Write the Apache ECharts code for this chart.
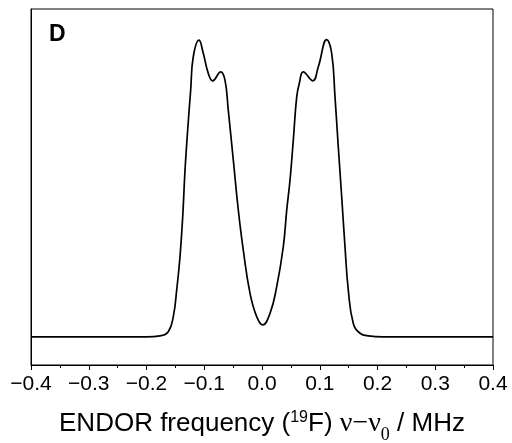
<!DOCTYPE html>
<html>
<head>
<meta charset="utf-8">
<script src="https://cdn.jsdelivr.net/npm/echarts@6/dist/echarts.min.js"></script>
<style>
html,body{margin:0;padding:0;background:#fff;}
#chart{width:512px;height:443px;}
</style>
</head>
<body>
<div id="chart"></div>
<script>
// ENDOR frequency offset (MHz)
var freq = [-0.4, -0.2, -0.1766, -0.1623, -0.1536, -0.1477, -0.142, -0.1373, -0.1333, -0.1287, -0.1235, -0.119, -0.1091, -0.1016, -0.093, -0.0854, -0.0715, -0.0641, -0.0584, -0.0497, -0.041, -0.0324, -0.0208, -0.0092, 0.0012, 0.0139, 0.0255, 0.0369, 0.0428, 0.0485, 0.0542, 0.0601, 0.0646, 0.0715, 0.0878, 0.0975, 0.112, 0.1207, 0.1264, 0.1321, 0.138, 0.1437, 0.1494, 0.1581, 0.1697, 0.1841, 0.21, 0.4];
// Normalized ENDOR intensity
var intensity = [0, 0, 0.003, 0.017, 0.068, 0.158, 0.27, 0.405, 0.562, 0.697, 0.832, 0.944, 1.0, 0.955, 0.888, 0.863, 0.893, 0.865, 0.764, 0.596, 0.427, 0.292, 0.147, 0.068, 0.04, 0.079, 0.169, 0.304, 0.427, 0.528, 0.663, 0.809, 0.854, 0.893, 0.863, 0.91, 1.002, 0.955, 0.809, 0.64, 0.472, 0.304, 0.158, 0.045, 0.012, 0.003, 0, 0];
var panelLabel = 'D';

var data = freq.map(function (f, i) { return [f, intensity[i]]; });

var chart = echarts.init(document.getElementById('chart'), null, {renderer: 'canvas'});
chart.setOption({
  animation: false,
  backgroundColor: '#fff',
  grid: {left: 31, right: 19, top: 9, bottom: 78, containLabel: false, outerBoundsMode: 'none',
         show: true, borderColor: '#000', borderWidth: 1, backgroundColor: 'transparent'},
  xAxis: {
    type: 'value', min: -0.4, max: 0.4, interval: 0.1,
    axisLine: {show: true, onZero: false, lineStyle: {color: '#000', width: 1}},
    axisTick: {show: true, inside: false, length: 5, lineStyle: {color: '#000'}},
    minorTick: {show: true, splitNumber: 2, length: 3, lineStyle: {color: '#000'}},
    splitLine: {show: false},
    axisLabel: {
      color: '#000', fontFamily: 'Liberation Sans, Arial, sans-serif', fontSize: 21, margin: 9,
      formatter: function (v) { return (Math.abs(v) < 1e-9 ? '0.0' : v.toFixed(1)).replace('-', '\u2212'); }
    },
    name: '{a|ENDOR frequency (}{sup|19}{a|F) }{nu|\u03bd\u2212\u03bd}{sub|0}{a| / MHz}',
    nameLocation: 'middle', nameGap: 44,
    nameTextStyle: {
      color: '#000',
      rich: {
        a: {fontFamily: 'Liberation Sans, Arial, sans-serif', fontSize: 26, color: '#000', lineHeight: 30},
        sup: {fontFamily: 'Liberation Sans, Arial, sans-serif', fontSize: 16, color: '#000', verticalAlign: 'top', lineHeight: 30, padding: [1, 0, 0, 0]},
        nu: {fontFamily: 'Liberation Serif, Times New Roman, serif', fontSize: 28, color: '#000', lineHeight: 30},
        sub: {fontFamily: 'Liberation Serif, Times New Roman, serif', fontSize: 18, color: '#000', verticalAlign: 'bottom', lineHeight: 30, padding: [0, 0, -5, 0]}
      }
    }
  },
  yAxis: {
    type: 'value', min: -0.095, max: 1.105,
    axisLine: {show: true, onZero: false, lineStyle: {color: '#000', width: 1}},
    axisTick: {show: false}, axisLabel: {show: false}, splitLine: {show: false}
  },
  title: {
    text: panelLabel, left: 44, top: 18,
    textStyle: {fontFamily: 'Liberation Sans, Arial, sans-serif', fontWeight: 'bold', fontSize: 23, color: '#000'}
  },
  series: [{
    type: 'line', data: data, smooth: 0.45, showSymbol: false,
    lineStyle: {color: '#000', width: 1.7}
  }]
});
</script>
</body>
</html>
